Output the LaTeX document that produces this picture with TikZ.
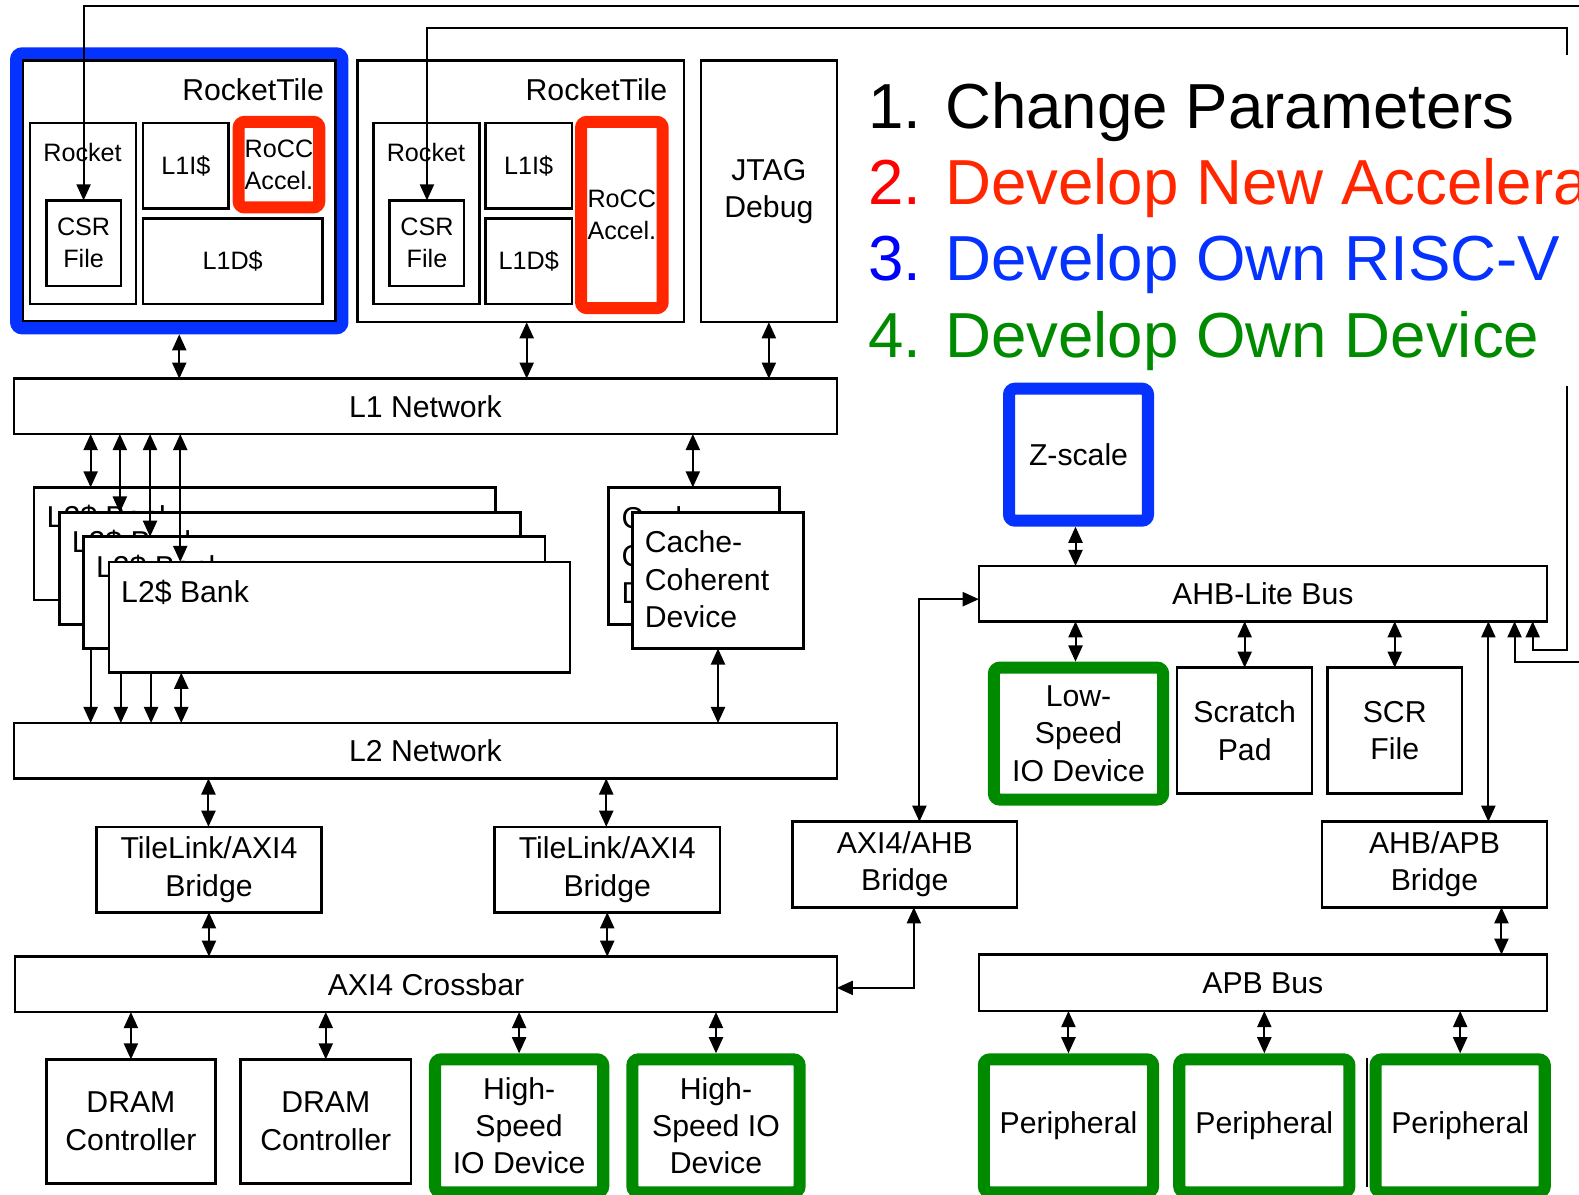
\documentclass[tikz,border=0pt]{standalone}
\usepackage{fontspec}
\setmainfont{Liberation Sans}
\usetikzlibrary{arrows.meta}
\definecolor{myblue}{RGB}{5,50,255}
\definecolor{myred}{RGB}{255,38,0}
\definecolor{mygreen}{RGB}{0,138,0}
\definecolor{pureblue}{RGB}{0,0,255}
\definecolor{purered}{RGB}{255,0,0}
\newcommand\lab{\fontsize{15}{18.5}\selectfont}
\newcommand\slab{\fontsize{12.5}{16}\selectfont}
\newcommand\hlab{\fontsize{31.6}{37}\selectfont}
\newcommand\bx[7]{\node[#6, minimum width={(#4-#2)*0.5pt}, minimum height={(#5-#3)*0.5pt}] (#1) at ({(#2+#4)/2},{(#3+#5)/2}) {#7};}
\pgfdeclarelayer{background}
\pgfsetlayers{background,main}
\tikzset{
  box/.style={draw, line width=1.25pt, fill=white, inner sep=0pt, outer sep=0pt, align=center, font=\lab},
  sbox/.style={box, font=\slab},
  tb/.style={box, line width=6pt, rounded corners=3pt},
  bluebox/.style={tb, draw=myblue},
  redbox/.style={tb, draw=myred, font=\slab},
  greenbox/.style={tb, draw=mygreen},
  mytip/.tip={Triangle[length=8pt,width=7pt]},
  arr/.style={line width=1pt, -mytip},
  dbl/.style={line width=1pt, mytip-mytip},
  txt/.style={inner sep=0pt, font=\lab},
  htxt/.style={inner sep=0pt, font=\hlab, anchor=base west},
}
\begin{document}
\begin{tikzpicture}[x=0.5pt,y=-0.5pt]
\useasboundingbox (0,0) rectangle (1568,1186);
\clip (0,0) rectangle (1568,1186);

% ---------- Tile 1
\bx{tile1blue}{16}{53}{340}{326}{bluebox}{}
\bx{tile1}{23}{60}{333}{319}{box}{}
\node[txt, anchor=base east] (tt1) at (322,100) {RocketTile};
\bx{rocket1}{30}{122}{135}{302}{sbox}{}
\node[txt, font=\slab, anchor=base] (rl1) at (82,160) {Rocket};
\bx{csr1}{46}{199}{120}{284}{sbox}{CSR\\File}
\bx{li1}{142}{122}{227}{207}{sbox}{L1I\$}
\bx{rocc1}{237}{121}{317}{206}{redbox}{RoCC\\Accel.}
\bx{ld1}{142}{217}{320}{302}{sbox}{L1D\$}

% ---------- Tile 2
\bx{tile2}{355}{60}{679}{320}{box}{}
\node[txt, anchor=base east] (tt2) at (663,100) {RocketTile};
\bx{rocket2}{371}{122}{476}{302}{sbox}{}
\node[txt, font=\slab, anchor=base] (rl2) at (423,160) {Rocket};
\bx{csr2}{387}{199}{461}{284}{sbox}{CSR\\File}
\bx{li2}{482}{122}{568}{207}{sbox}{L1I\$}
\bx{ld2}{482}{217}{568}{302}{sbox}{L1D\$}
\bx{rocc2}{577}{121}{658}{306}{redbox}{RoCC\\Accel.}

\bx{jtag}{696}{60}{831}{320}{box}{JTAG\\Debug}
\bx{l1net}{14}{376}{831}{431}{box}{L1 Network}

% ---------- L2 banks
\bx{bank1}{34}{484}{492}{596}{box}{}
\node[txt, anchor=base west] (bl1) at (46,524) {L2\$ Bank};
\bx{bank2}{59}{509}{517}{620}{box}{}
\node[txt, anchor=base west] (bl2) at (71,549) {L2\$ Bank};
\bx{bank3}{83}{533}{541}{644}{box}{}
\node[txt, anchor=base west] (bl3) at (95,573) {L2\$ Bank};
\bx{bank4}{108}{558}{566}{668}{box}{}
\node[txt, anchor=base west] (bl4) at (120,598) {L2\$ Bank};

% ---------- Cache coherent devices
\bx{cacheb}{604}{484}{774}{620}{box}{}
\node[txt, align=left, anchor=north west] (cbt) at (617,503) {Cache-\\Coherent\\Device};
\bx{cachef}{628}{509}{798}{644}{box}{}
\node[txt, align=left, anchor=north west] (cft) at (640,527) {Cache-\\Coherent\\Device};

\bx{l2net}{14}{718}{831}{773}{box}{L2 Network}
\bx{tlb1}{96}{821}{319}{906}{box}{TileLink/AXI4\\Bridge}
\bx{tlb2}{491}{821}{715}{906}{box}{TileLink/AXI4\\Bridge}
\bx{xbar}{15}{950}{831}{1005}{box}{AXI4 Crossbar}
\bx{dram1}{46}{1052}{214}{1175}{box}{DRAM\\Controller}
\bx{dram2}{239}{1052}{408}{1175}{box}{DRAM\\Controller}
\bx{hs1}{432}{1052}{599}{1184}{greenbox}{High-\\Speed\\IO Device}
\bx{hs2}{628}{1052}{794}{1184}{greenbox}{High-\\Speed IO\\Device}
\bx{axiahb}{787}{816}{1010}{901}{box}{AXI4/AHB\\Bridge}

% ---------- Right side
\bx{zscale}{1002}{386}{1140}{517}{bluebox}{Z-scale}
\bx{ahb}{972}{562}{1536}{617}{box}{AHB-Lite Bus}
\bx{lowspeed}{987}{663}{1155}{794}{greenbox}{Low-\\Speed\\IO Device}
\bx{scratch}{1169}{663}{1303}{788}{box}{Scratch\\Pad}
\bx{scr}{1318}{663}{1452}{788}{box}{SCR\\File}
\bx{ahbapb}{1313}{816}{1536}{901}{box}{AHB/APB\\Bridge}
\bx{apb}{972}{948}{1536}{1004}{box}{APB Bus}
\draw[line width=1.25pt] (1357.5,1051) -- (1357.5,1179);
\bx{per1}{977}{1052}{1145}{1184}{greenbox}{Peripheral}
\bx{per2}{1171}{1052}{1340}{1184}{greenbox}{Peripheral}
\bx{per3}{1366}{1052}{1534}{1184}{greenbox}{Peripheral}

% ---------- Headline texts
\node[htxt] (t1) at (862,128) {1. Change Parameters};
\node[htxt] (t2) at (862,203) {\textcolor{purered}{2.} \textcolor{myred}{Develop New Accelerator}};
\node[htxt] (t3) at (862,279) {\textcolor{pureblue}{3.} \textcolor{myblue}{Develop Own RISC-V}};
\node[htxt, text=mygreen] (t4) at (862,355.5) {4. Develop Own Device};

% ---------- Connectors
\draw[dbl, shorten <=3pt] (tile1blue.south) -- (tile1blue.south |- l1net.north);
\draw[dbl] (523,0 |- tile2.south) -- (523,0 |- l1net.north);
\draw[dbl] (jtag.south) -- (jtag.south |- l1net.north);
\foreach \i/\x in {1/90,2/119,3/149,4/179}
  \draw[dbl] (\x,0 |- l1net.south) -- (\x,0 |- bank\i.north);
\draw[dbl] (688,0 |- l1net.south) -- (688,0 |- cacheb.north);
\begin{pgfonlayer}{background}
\foreach \i/\x in {1/90,2/120,3/150}
  \draw[arr] (\x,0 |- bank\i.south) -- (\x,0 |- l2net.north);
\end{pgfonlayer}
\draw[dbl] (180,0 |- bank4.south) -- (180,0 |- l2net.north);
\draw[dbl] (713,0 |- cachef.south) -- (713,0 |- l2net.north);
\draw[dbl] (207,0 |- l2net.south) -- (207,0 |- tlb1.north);
\draw[dbl] (602,0 |- l2net.south) -- (602,0 |- tlb2.north);
\draw[dbl] (tlb1.south) -- (tlb1.south |- xbar.north);
\draw[dbl] (tlb2.south) -- (tlb2.south |- xbar.north);
\draw[dbl] (dram1.north |- xbar.south) -- (dram1.north);
\draw[dbl] (dram2.north |- xbar.south) -- (dram2.north);
\draw[dbl, shorten >=3pt] (hs1.north |- xbar.south) -- (hs1.north);
\draw[dbl, shorten >=3pt] (hs2.north |- xbar.south) -- (hs2.north);
\draw[dbl] (xbar.east |- 0,981) -| (907.5,0 |- axiahb.south);
\draw[dbl] (913,0 |- axiahb.north) |- (ahb.west |- 0,595);
\draw[dbl, shorten <=3pt] (1068,0 |- zscale.south) -- (1068,0 |- ahb.north);
\draw[dbl, shorten >=3pt] (1068,0 |- ahb.south) -- (1068,0 |- lowspeed.north);
\draw[dbl] (scratch.north |- ahb.south) -- (scratch.north);
\draw[dbl] (scr.north |- ahb.south) -- (scr.north);
\draw[dbl] (1478,0 |- ahb.south) -- (1478,0 |- ahbapb.north);
\draw[dbl] (1491,0 |- ahbapb.south) -- (1491,0 |- apb.north);
\draw[dbl, shorten >=3pt] (per1.north |- apb.south) -- (per1.north);
\draw[dbl, shorten >=3pt] (per2.north |- apb.south) -- (per2.north);
\draw[dbl, shorten >=3pt] (per3.north |- apb.south) -- (per3.north);

% CSR feedback lines
\coordinate (e1) at (1600,6);
\coordinate (e2) at (1600,657);
\coordinate (gapTop) at (1556,55);
\coordinate (gapBot) at (1556,383);
\draw[arr] (e1) -| (csr1.north);
\draw[arr] (gapTop) -- (1556,27.5) -| (csr2.north);
\draw[arr] (gapBot) |- (1522,645) -- (1522,0 |- ahb.south);
\draw[arr] (e2) -| (1504,0 |- ahb.south);
\end{tikzpicture}
\end{document}
